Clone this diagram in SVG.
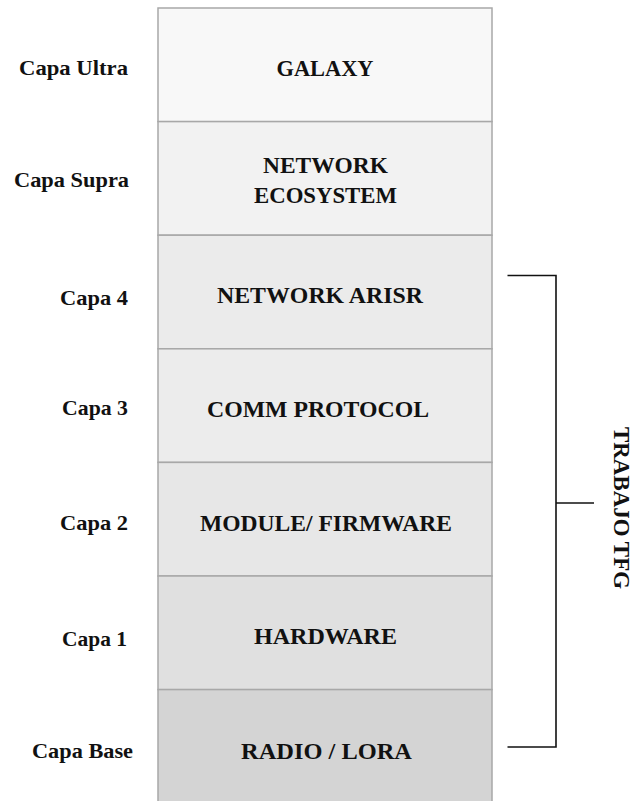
<svg xmlns="http://www.w3.org/2000/svg" width="635" height="801" viewBox="0 0 635 801">
<style>
.box{stroke:#a8a8a8;stroke-width:1.5}
.t{font-family:'Liberation Serif','Times New Roman',serif;font-weight:700;font-size:23px;fill:#111;text-anchor:middle}
.lbl{font-family:'Liberation Serif','Times New Roman',serif;font-weight:700;font-size:22px;fill:#111;text-anchor:end}
.br{fill:none;stroke:#111;stroke-width:1.6}
</style>
<rect width="635" height="801" fill="#ffffff"/>
<g id="layer-ultra">
<rect class="box" x="158" y="8" width="334" height="113.6" fill="#f8f8f8"/>
<text class="t" x="325" y="76" textLength="97" lengthAdjust="spacingAndGlyphs">GALAXY</text>
<text class="lbl" x="128" y="75" textLength="109" lengthAdjust="spacingAndGlyphs">Capa Ultra</text>
</g>
<g id="layer-supra">
<rect class="box" x="158" y="121.6" width="334" height="113.6" fill="#f2f2f2"/>
<text class="t" x="325.5" y="172.7" textLength="125" lengthAdjust="spacingAndGlyphs">NETWORK</text>
<text class="t" x="325.5" y="203.3" textLength="143" lengthAdjust="spacingAndGlyphs">ECOSYSTEM</text>
<text class="lbl" x="129" y="187" textLength="115" lengthAdjust="spacingAndGlyphs">Capa Supra</text>
</g>
<g id="layer-4">
<rect class="box" x="158" y="235.2" width="334" height="113.6" fill="#ebebeb"/>
<text class="t" x="320" y="303.3" textLength="206" lengthAdjust="spacingAndGlyphs">NETWORK ARISR</text>
<text class="lbl" x="128" y="305" textLength="68" lengthAdjust="spacingAndGlyphs">Capa 4</text>
</g>
<g id="layer-3">
<rect class="box" x="158" y="348.8" width="334" height="113.6" fill="#ececec"/>
<text class="t" x="318" y="417.3" textLength="222" lengthAdjust="spacingAndGlyphs">COMM PROTOCOL</text>
<text class="lbl" x="128" y="415" textLength="66" lengthAdjust="spacingAndGlyphs">Capa 3</text>
</g>
<g id="layer-2">
<rect class="box" x="158" y="462.4" width="334" height="113.6" fill="#e7e7e7"/>
<text class="t" x="326" y="530.7" textLength="252" lengthAdjust="spacingAndGlyphs">MODULE/ FIRMWARE</text>
<text class="lbl" x="128" y="530" textLength="68" lengthAdjust="spacingAndGlyphs">Capa 2</text>
</g>
<g id="layer-1">
<rect class="box" x="158" y="576" width="334" height="113.6" fill="#e0e0e0"/>
<text class="t" x="325.5" y="644" textLength="143" lengthAdjust="spacingAndGlyphs">HARDWARE</text>
<text class="lbl" x="127" y="646" textLength="65" lengthAdjust="spacingAndGlyphs">Capa 1</text>
</g>
<g id="layer-base">
<rect class="box" x="158" y="689.6" width="334" height="113.6" fill="#d4d4d4"/>
<text class="t" x="326.5" y="759" textLength="171" lengthAdjust="spacingAndGlyphs">RADIO / LORA</text>
<text class="lbl" x="133" y="758" textLength="101" lengthAdjust="spacingAndGlyphs">Capa Base</text>
</g>
<g id="connectors">
<path class="br" d="M507.5 275.5 H556 V747 H507.5"/>
<path class="br" d="M556 503 H594"/>
</g>
<g id="bracket-label">
<text class="t" transform="translate(614 508) rotate(90)" x="0" y="0" textLength="162" lengthAdjust="spacingAndGlyphs">TRABAJO TFG</text>
</g>
</svg>
